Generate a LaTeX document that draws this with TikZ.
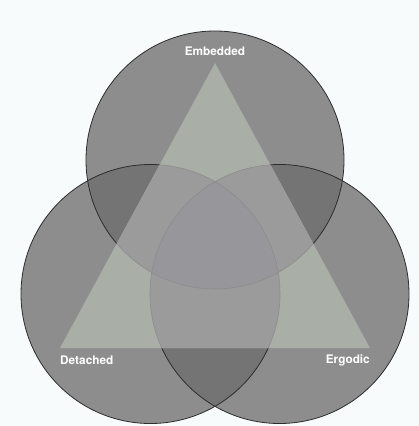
\documentclass[tikz,border=0pt]{standalone}
\usepackage{fontspec}
\setmainfont{TeX Gyre Heros}
\definecolor{bgc}{RGB}{248,251,252}
\definecolor{csingle}{RGB}{141,141,141}
\definecolor{cdouble}{RGB}{116,116,116}
\definecolor{ctrisingle}{RGB}{169,174,167}
\definecolor{ctridouble}{RGB}{155,155,155}
\definecolor{ctritriple}{RGB}{150,150,155}
\definecolor{cedge}{RGB}{45,45,45}
\definecolor{cfaintedge}{RGB}{140,140,140}
\tikzset{
  label text/.style={text=white, font=\fontsize{11.8}{14}\selectfont\bfseries, inner sep=0pt},
  ring/.style={draw=cedge, line width=0.8pt},
  faintring/.style={draw=cfaintedge, line width=0.6pt}
}
\begin{document}
\begin{tikzpicture}[x=1pt,y=-1pt]
\fill[bgc] (0,0) rectangle (419,426);
\useasboundingbox (0,0) rectangle (419,426);
\coordinate (cT) at (215,160);
\coordinate (cL) at (150.5,294);
\coordinate (cR) at (279.5,294);
\coordinate (tA) at (215,63);
\coordinate (tL) at (60,348);
\coordinate (tR) at (370,348);
\def\rT{129}
\def\rLR{129.5}
% single fills
\fill[csingle] (cT) circle[radius=\rT];
\fill[csingle] (cL) circle[radius=\rLR];
\fill[csingle] (cR) circle[radius=\rLR];
% pairwise overlaps
\begin{scope}
  \clip (cT) circle[radius=\rT];
  \fill[cdouble] (cL) circle[radius=\rLR];
  \fill[cdouble] (cR) circle[radius=\rLR];
\end{scope}
\begin{scope}
  \clip (cL) circle[radius=\rLR];
  \fill[cdouble] (cR) circle[radius=\rLR];
\end{scope}
% outlines
\draw[ring] (cT) circle[radius=\rT];
\draw[ring] (cL) circle[radius=\rLR];
\draw[ring] (cR) circle[radius=\rLR];
% triangle
\fill[ctrisingle] (tA) -- (tL) -- (tR) -- cycle;
\begin{scope}
  \clip (tA) -- (tL) -- (tR) -- cycle;
  \begin{scope}
    \clip (cT) circle[radius=\rT];
    \fill[ctridouble] (cL) circle[radius=\rLR];
    \fill[ctridouble] (cR) circle[radius=\rLR];
  \end{scope}
  \begin{scope}
    \clip (cL) circle[radius=\rLR];
    \fill[ctridouble] (cR) circle[radius=\rLR];
  \end{scope}
  \begin{scope}
    \clip (cT) circle[radius=\rT];
    \clip (cL) circle[radius=\rLR];
    \fill[ctritriple] (cR) circle[radius=\rLR];
  \end{scope}
  \draw[faintring] (cT) circle[radius=\rT];
  \draw[faintring] (cL) circle[radius=\rLR];
  \draw[faintring] (cR) circle[radius=\rLR];
\end{scope}
% labels
\node[label text] (emb) at (215,51) {Embedded};
\node[label text, anchor=west] (det) at (60,360) {Detached};
\node[label text, anchor=east] (erg) at (370,360) {Ergodic};
\end{tikzpicture}
\end{document}
